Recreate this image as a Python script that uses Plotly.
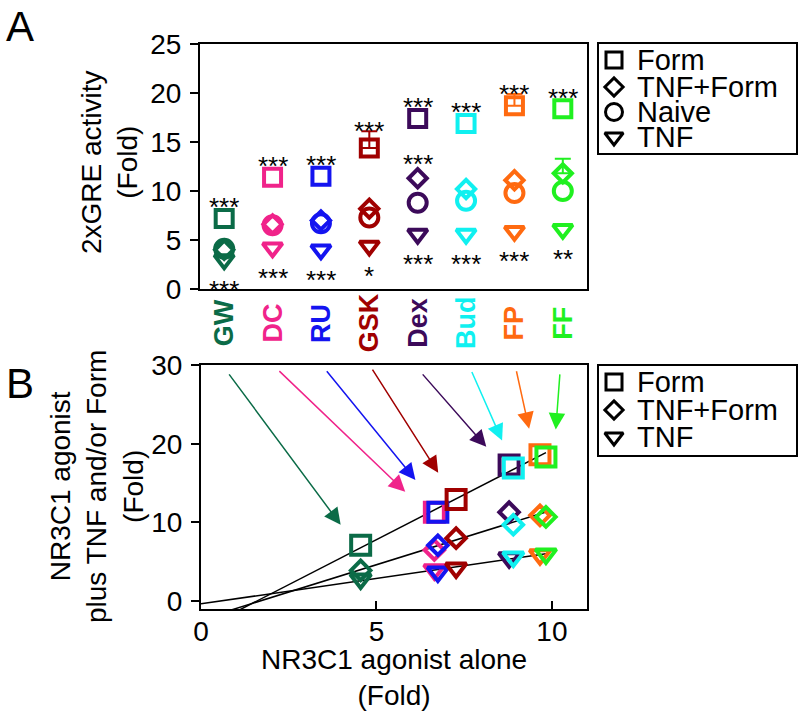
import numpy as np
import plotly.graph_objects as go

# ---------------- data ----------------
categories = ["GW", "DC", "RU", "GSK", "Dex", "Bud", "FP", "FF"]
cat_colors = ["#0B6B47", "#F0238A", "#1414F0", "#A00000", "#3C0A5A",
              "#10F0F0", "#FF6A10", "#20F020"]

# Panel A : 2xGRE activity (Fold)
a_form = [7.2, 11.4, 11.5, 14.4, 17.4, 16.9, 18.7, 18.4]
a_form_err = [0.0, 0.0, 0.0, 1.7, 0.0, 0.0, 1.2, 0.0]
a_tnf_form = [4.0, 6.6, 7.0, 8.2, 11.3, 10.2, 11.1, 11.8]
a_tnf_form_err = [0.0, 0.0, 0.0, 0.0, 0.0, 0.0, 0.0, 1.5]
a_naive = [4.1, 6.5, 6.7, 7.3, 8.8, 9.0, 9.8, 10.0]
a_tnf = [3.0, 4.2, 4.0, 4.4, 5.6, 5.6, 5.9, 6.1]

stars_form = ["***", "***", "***", "***", "***", "***", "***", "***"]
stars_tnf_form = ["", "", "", "", "***", "", "", ""]
stars_tnf = ["***", "***", "***", "*", "***", "***", "***", "**"]

# Panel B : agonist alone vs agonist plus TNF and/or Form
b_alone = [4.55, 6.65, 6.75, 7.27, 8.78, 8.9, 9.66, 9.83]
b_form = [7.1, 11.3, 11.3, 12.9, 17.3, 16.9, 18.6, 18.3]
b_tnf_form = [3.9, 6.5, 7.1, 8.0, 11.3, 9.7, 10.9, 10.7]
b_tnf = [2.8, 4.0, 3.7, 4.2, 5.5, 5.6, 5.9, 6.0]

# arrows in panel B (tail -> tip, in panel-B data units)
arrow_tail_x = [0.77, 2.19, 3.55, 4.86, 6.28, 7.70, 8.98, 10.23]
arrow_tail_y = [29.0, 29.4, 29.4, 29.6, 29.0, 29.3, 29.4, 29.0]
arrow_tip_x = [3.98, 5.82, 6.11, 6.76, 8.13, 8.58, 9.35, 10.11]
arrow_tip_y = [9.7, 13.9, 15.4, 16.3, 19.6, 20.4, 21.9, 21.8]

legend_a = ["Form", "TNF+Form", "Naive", "TNF"]
legend_b = ["Form", "TNF+Form", "TNF"]

# ---------------- layout helpers ----------------
W, H = 800, 714
FONT = "Liberation Sans, Arial, sans-serif"


def fx(p):
    return p / W


def fy(p):
    return 1 - p / H


sym = {"Form": "square-open", "TNF+Form": "diamond-open",
       "Naive": "circle-open", "TNF": "triangle-down-open"}
size_a = {"Form": 17, "TNF+Form": 14, "Naive": 18, "TNF": 17}
size_b = {"Form": 19, "TNF+Form": 15, "TNF": 18}

fig = go.Figure()

# ---------------- Panel A ----------------
A_PX_PER_UNIT = (289 - 44) / 25.0
series_a = [("Naive", a_naive, None), ("TNF", a_tnf, None),
            ("TNF+Form", a_tnf_form, a_tnf_form_err), ("Form", a_form, a_form_err)]
for i, cat in enumerate(categories):
    for name, vals, errs in series_a:
        kw = {}
        if errs is not None and errs[i] > 0:
            kw["error_y"] = dict(type="data", symmetric=False, array=[errs[i]],
                                 arrayminus=[0], color=cat_colors[i],
                                 thickness=2, width=8)
        fig.add_trace(go.Scatter(
            x=[cat], y=[vals[i]], mode="markers", xaxis="x", yaxis="y",
            marker=dict(symbol=sym[name], size=size_a[name], color=cat_colors[i],
                        line=dict(width=4, color=cat_colors[i])),
            showlegend=False, hoverinfo="skip", **kw))

annotations = []


def txt(**kw):
    d = dict(showarrow=False, xanchor="center", yanchor="middle")
    d.update(kw)
    annotations.append(d)


for i, cat in enumerate(categories):
    if stars_form[i]:
        shift = max(17, a_form_err[i] * A_PX_PER_UNIT + 6)
        txt(x=cat, y=a_form[i], xref="x", yref="y", text=stars_form[i],
            yshift=shift - 6, font=dict(size=26, color="black"))
    if stars_tnf_form[i]:
        txt(x=cat, y=a_tnf_form[i], xref="x", yref="y", text=stars_tnf_form[i],
            yshift=20 - 6, font=dict(size=26, color="black"))
    if stars_tnf[i]:
        txt(x=cat, y=a_tnf[i], xref="x", yref="y", text=stars_tnf[i],
            yshift=-24 - 6, font=dict(size=26, color="black"))
    # category label
    txt(x=cat, y=fy(323), xref="x", yref="paper", text="<b>%s</b>" % cat,
        textangle=-90, font=dict(size=27, color=cat_colors[i]))

# ---------------- Panel B ----------------
series_b = [("Form", b_form), ("TNF+Form", b_tnf_form), ("TNF", b_tnf)]
xline = np.array([0.0, max(b_alone)])
for name, vals in series_b:
    slope, icpt = np.polyfit(b_alone, vals, 1)
    fig.add_trace(go.Scatter(x=xline, y=slope * xline + icpt, mode="lines",
                             xaxis="x2", yaxis="y2",
                             line=dict(color="black", width=1.5),
                             showlegend=False, hoverinfo="skip"))
for name, vals in series_b:
    fig.add_trace(go.Scatter(
        x=b_alone, y=vals, mode="markers", xaxis="x2", yaxis="y2",
        marker=dict(symbol=sym[name], size=size_b[name], color=cat_colors,
                    line=dict(width=4)),
        showlegend=False, hoverinfo="skip"))

for i in range(len(categories)):
    annotations.append(dict(x=arrow_tip_x[i], y=arrow_tip_y[i], xref="x2", yref="y2",
                            ax=arrow_tail_x[i], ay=arrow_tail_y[i],
                            axref="x2", ayref="y2", text="", showarrow=True,
                            arrowhead=2, arrowsize=2.2, arrowwidth=1.5,
                            arrowcolor=cat_colors[i], standoff=0))

# ---------------- hand-built legends ----------------
LA = dict(x0=598, x1=797, y0=43, y1=154)
LB = dict(x0=598, x1=797, y0=365, y1=456)
rows_a = [60, 87, 112, 137]
rows_b = [382, 410, 437]
size_leg = {"Form": 16, "TNF+Form": 14, "Naive": 17, "TNF": 16}
for names, rows, xa, ya in [(legend_a, rows_a, "x3", "y3"), (legend_b, rows_b, "x4", "y4")]:
    for name, r in zip(names, rows):
        fig.add_trace(go.Scatter(x=[614], y=[r], mode="markers", xaxis=xa, yaxis=ya,
                                 marker=dict(symbol=sym[name], size=size_leg[name],
                                             color="black", line=dict(width=3)),
                                 showlegend=False, hoverinfo="skip", cliponaxis=False))
        txt(x=635, y=r, xref=xa, yref=ya, text=name, xanchor="left",
            font=dict(size=29, color="black"))

shapes = []
for L in (LA, LB):
    shapes.append(dict(type="rect", xref="paper", yref="paper",
                       x0=fx(L["x0"]), x1=fx(L["x1"]), y0=fy(L["y1"]), y1=fy(L["y0"]),
                       line=dict(color="black", width=2)))

# titles & panel letters
txt(x=fx(20), y=fy(27), xref="paper", yref="paper", text="A",
    font=dict(size=42, color="black"))
txt(x=fx(20), y=fy(383), xref="paper", yref="paper", text="B",
    font=dict(size=42, color="black"))
txt(x=fx(110), y=fy(162), xref="paper", yref="paper",
    text="2xGRE activity<br>(Fold)", textangle=-90,
    font=dict(size=28, color="black"))
txt(x=fx(97), y=fy(487), xref="paper", yref="paper",
    text="NR3C1 agonist<br>plus TNF and/or Form<br>(Fold)", textangle=-90,
    font=dict(size=28, color="black"))
txt(x=fx(394), y=fy(677), xref="paper", yref="paper",
    text="NR3C1 agonist alone<br>(Fold)", font=dict(size=28, color="black"))

axis_common = dict(showline=True, linecolor="black", linewidth=2, mirror=True,
                   showgrid=False, zeroline=False, automargin=False,
                   tickfont=dict(size=28, color="black"), tickcolor="black",
                   tickwidth=2)

fig.update_layout(
    width=W, height=H, margin=dict(l=0, r=0, t=0, b=0, autoexpand=False),
    paper_bgcolor="white", plot_bgcolor="white",
    font=dict(family=FONT, color="black"),
    showlegend=False,
    xaxis=dict(domain=[fx(200), fx(587)], anchor="y", type="category",
               categoryorder="array", categoryarray=categories,
               range=[-0.5, 7.5], showticklabels=False, ticks="", **axis_common),
    yaxis=dict(domain=[fy(289), fy(44)], anchor="x", range=[0, 25],
               tickvals=[0, 5, 10, 15, 20, 25], ticks="outside", ticklen=8,
               ticklabelstandoff=3, **axis_common),
    xaxis2=dict(domain=[fx(201), fx(587)], anchor="y2", range=[0, 11],
                tickvals=[0, 5, 10], ticks="inside", ticklen=8,
                ticklabelstandoff=-4, **axis_common),
    yaxis2=dict(domain=[fy(609), fy(365)], anchor="x2", range=[-1, 30],
                tickvals=[0, 10, 20, 30], ticks="outside", ticklen=8,
                ticklabelstandoff=3, **axis_common),
    xaxis3=dict(domain=[fx(LA["x0"]), fx(LA["x1"])], anchor="y3",
                range=[LA["x0"], LA["x1"]], visible=False, automargin=False),
    yaxis3=dict(domain=[fy(LA["y1"]), fy(LA["y0"])], anchor="x3",
                range=[LA["y1"], LA["y0"]], visible=False, automargin=False),
    xaxis4=dict(domain=[fx(LB["x0"]), fx(LB["x1"])], anchor="y4",
                range=[LB["x0"], LB["x1"]], visible=False, automargin=False),
    yaxis4=dict(domain=[fy(LB["y1"]), fy(LB["y0"])], anchor="x4",
                range=[LB["y1"], LB["y0"]], visible=False, automargin=False),
    annotations=annotations,
    shapes=shapes,
)

fig.write_html("out.html", config={"displayModeBar": False},
               post_script="document.body.style.margin='0';")
